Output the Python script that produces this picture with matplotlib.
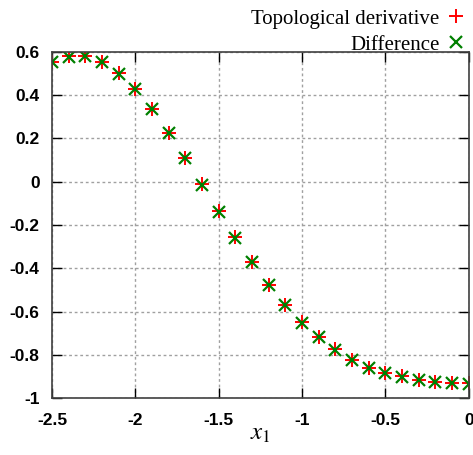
import numpy as np
import matplotlib
matplotlib.use("Agg")
import matplotlib.pyplot as plt

plt.rcParams["mathtext.fontset"] = "stix"

x1 = [-2.5, -2.4, -2.3, -2.2, -2.1, -2.0, -1.9, -1.8, -1.7, -1.6, -1.5, -1.4, -1.3,
      -1.2, -1.1, -1.0, -0.9, -0.8, -0.7, -0.6, -0.5, -0.4, -0.3, -0.2, -0.1, 0.0]
topo = [0.555, 0.580, 0.580, 0.553, 0.501, 0.429, 0.335, 0.227, 0.108, -0.012,
        -0.137, -0.257, -0.370, -0.477, -0.570, -0.650, -0.716, -0.775, -0.824,
        -0.860, -0.883, -0.900, -0.917, -0.926, -0.930, -0.932]
diff = [0.555, 0.578, 0.579, 0.552, 0.500, 0.428, 0.334, 0.226, 0.108, -0.013,
        -0.138, -0.258, -0.371, -0.478, -0.571, -0.651, -0.717, -0.776, -0.825,
        -0.861, -0.884, -0.901, -0.918, -0.927, -0.931, -0.933]

xticks = [-2.5, -2, -1.5, -1, -0.5, 0]
xticklabels = ["-2.5", "-2", "-1.5", "-1", "-0.5", "0"]
yticks = [-1, -0.8, -0.6, -0.4, -0.2, 0, 0.2, 0.4, 0.6]
yticklabels = ["-1", "-0.8", "-0.6", "-0.4", "-0.2", "0", "0.2", "0.4", "0.6"]

fig = plt.figure(figsize=(4.73, 4.55), dpi=100)
ax = fig.add_axes([0.110, 0.125, 0.881, 0.761])

ax.plot(x1, topo, linestyle="none", marker="+", color="#ff0000", markersize=9.5,
        markeredgewidth=1.4, label="Topological derivative")
ax.plot(x1, diff, linestyle="none", marker="x", color="#008000", markersize=8.5,
        markeredgewidth=1.6, label="Difference")

ax.set_xlim(-2.5, 0)
ax.set_ylim(-1, 0.6)
ax.set_xticks(xticks)
ax.set_xticklabels(xticklabels)
ax.set_yticks(yticks)
ax.set_yticklabels(yticklabels)
ax.tick_params(direction="in", length=7, width=1, top=True, right=True,
               labelsize=12.5)
ax.tick_params(axis="x", pad=11)
ax.tick_params(axis="y", pad=9)
for lab in ax.get_xticklabels() + ax.get_yticklabels():
    lab.set_fontweight("bold")
    lab.set_family("Liberation Sans")
ax.grid(True, color="#a0a0a0", linestyle=(0, (2, 2)), linewidth=1)
for s in ax.spines.values():
    s.set_color("#404040")
    s.set_linewidth(1.2)

ax.set_xlabel(r"$x_1$", fontsize=18, labelpad=-5)

leg = ax.legend(loc="lower right", bbox_to_anchor=(1.012, 0.962), markerfirst=False,
                frameon=False, handlelength=0.7, handletextpad=0.45, labelspacing=0.3,
                borderpad=0.0, prop={"family": "Liberation Serif", "size": 15})

fig.savefig("out.png", dpi=100)
